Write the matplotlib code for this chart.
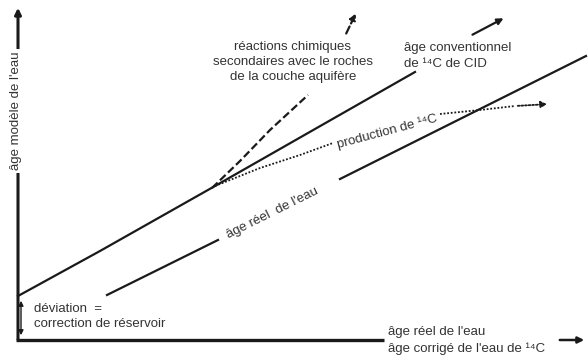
import matplotlib.pyplot as plt

plt.rcParams['font.family'] = ['Liberation Sans', 'DejaVu Sans']

# schematic curves, in diagram units (x = real age, y = model age, y axis drawn downward)
conv_x = [18, 100, 215, 415]
conv_y = [296, 251, 186, 72]
conv_arrow = [(470, 36), (506, 17)]

chem_x = [212, 240, 270, 308]
chem_y = [188, 161, 130, 95]
chem_arrow = [(345, 36), (357, 11)]

prod_x = [215, 260, 300, 333]
prod_y = [186, 168, 155, 143]
prod_x2 = [440, 480, 515]
prod_y2 = [114, 110, 106]
prod_arrow = [(515, 106), (550, 104)]

real_x = [107, 218]
real_y = [295, 240]
real_x2 = [340, 586]
real_y2 = [179, 56]

ink = '#1a1a1a'
txt = '#333333'
fs = 9.5

fig = plt.figure(figsize=(5.88, 3.62), dpi=100)
ax = fig.add_axes([0, 0, 1, 1])
ax.set_xlim(0, 588)
ax.set_ylim(362, 0)
ax.axis('off')

# axes
ax.annotate('', xy=(18, 5), xytext=(18, 342),
            arrowprops=dict(arrowstyle='-|>', color=ink, lw=2.2, mutation_scale=9))
ax.plot([16, 384], [340, 340], color=ink, lw=2.4, solid_capstyle='butt')
ax.annotate('', xy=(587, 340), xytext=(557, 340),
            arrowprops=dict(arrowstyle='-|>', color=ink, lw=1.8, mutation_scale=9))
ax.text(16, 111, "âge modèle de l'eau", rotation=90, ha='center', va='center',
        fontsize=fs, color=txt, bbox=dict(fc='white', ec='none', pad=2))

# conventional age
ax.plot(conv_x, conv_y, color=ink, lw=1.6)
ax.annotate('', xy=conv_arrow[1], xytext=conv_arrow[0],
            arrowprops=dict(arrowstyle='-|>', color=ink, lw=1.6, mutation_scale=9))
ax.text(404, 48, "âge conventionnel", fontsize=fs, color=txt, va='center')
ax.text(404, 64, "de ¹⁴C de CID", fontsize=fs, color=txt, va='center')

# chemical reactions
ax.plot(chem_x, chem_y, color=ink, lw=1.6, ls=(0, (3.5, 1.5)))
ax.annotate('', xy=chem_arrow[1], xytext=chem_arrow[0],
            arrowprops=dict(arrowstyle='-|>', color=ink, lw=1.6, ls=(0, (3.5, 1.5)),
                            mutation_scale=9))
ax.text(293, 47, "réactions chimiques", fontsize=fs, color=txt, ha='center', va='center')
ax.text(293, 62, "secondaires avec le roches", fontsize=fs, color=txt, ha='center', va='center')
ax.text(293, 77, "de la couche aquifère", fontsize=fs, color=txt, ha='center', va='center')

# 14C production
ax.plot(prod_x, prod_y, color=ink, lw=1.3, ls=(0, (1, 1)))
ax.plot(prod_x2, prod_y2, color=ink, lw=1.3, ls=(0, (1, 1)))
ax.annotate('', xy=prod_arrow[1], xytext=prod_arrow[0],
            arrowprops=dict(arrowstyle='-|>', color=ink, lw=1.3, ls=(0, (1, 1)),
                            mutation_scale=9))
ax.text(387, 132, "production de ¹⁴C", fontsize=fs, color=txt, ha='center', va='center',
        rotation=15, rotation_mode='anchor')

# real age
ax.plot(real_x, real_y, color=ink, lw=1.6)
ax.plot(real_x2, real_y2, color=ink, lw=1.6)
ax.text(272, 213, "âge réel  de l'eau", fontsize=fs, color=txt, ha='center', va='center',
        rotation=26.5, rotation_mode='anchor')

# reservoir correction
ax.annotate('', xy=(21, 298), xytext=(21, 338),
            arrowprops=dict(arrowstyle='<|-|>', color=ink, lw=1.0, mutation_scale=7))
ax.text(34, 309, "déviation  =", fontsize=fs, color=txt, va='center')
ax.text(34, 324, "correction de réservoir", fontsize=fs, color=txt, va='center')

# x axis label
ax.text(388, 332, "âge réel de l'eau", fontsize=fs, color=txt, va='center')
ax.text(388, 349, "âge corrigé de l'eau de ¹⁴C", fontsize=fs, color=txt, va='center')

fig.savefig('out.png', dpi=100)
